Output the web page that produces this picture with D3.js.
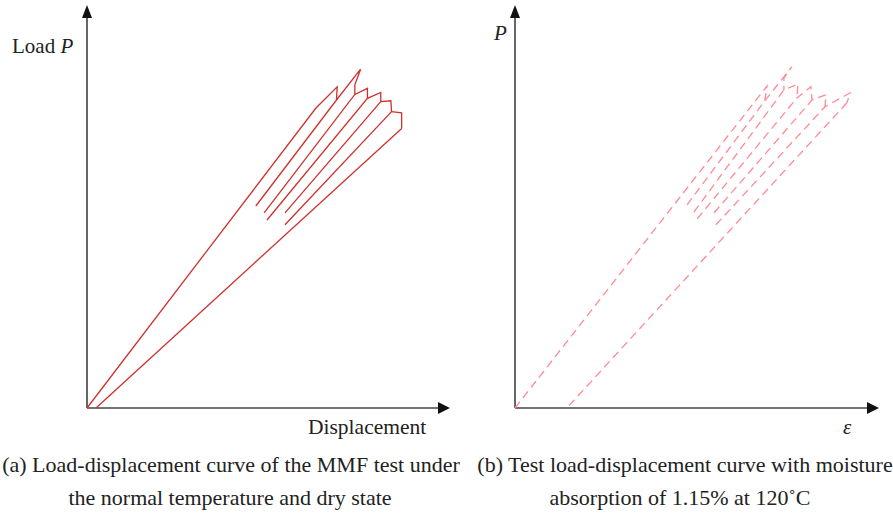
<!DOCTYPE html>
<html><head><meta charset="utf-8">
<script src="https://cdn.jsdelivr.net/npm/d3@7"></script>
<style>body{margin:0;background:#fff}svg{display:block}</style>
</head><body>
<script>
// ---------- data (arbitrary units) ----------
// Panel (a): load-displacement, dry state (solid)
const curveA1 = [[0,0],[6.36,7.5],[6.95,8.03],[6.93,7.7]];
const curveA2 = [[4.69,5.05],[6.93,7.7],[7.60,8.47],[7.44,8.08],[7.44,7.84]];
const curveA3 = [[4.92,4.88],[7.44,7.84],[7.79,7.99],[7.79,7.74]];
const curveA4 = [[5.0,4.7],[7.79,7.74],[8.16,7.89],[8.16,7.66]];
const curveA5 = [[5.5,4.88],[8.16,7.66],[8.44,7.68],[8.46,7.41]];
const curveA6 = [[5.5,4.58],[8.46,7.41],[8.74,7.38],[8.74,6.99]];
const curveA7 = [[8.74,6.99],[0.25,0]];
// Panel (b): moisture absorption 1.15% at 120°C (dashed)
const curveB1 = [[0,0],[7.0,8.05],[6.94,7.68]];
const curveB2 = [[4.78,5.08],[6.94,7.68],[7.69,8.53],[7.47,8.25],[7.47,7.95]];
const curveB3 = [[4.97,4.9],[7.47,7.95],[7.86,8.1],[7.83,7.75]];
const curveB4 = [[5.06,4.73],[7.83,7.75],[8.22,8.03],[8.25,7.7]];
const curveB5 = [[5.53,4.88],[8.25,7.7],[8.64,7.83],[8.61,7.53]];
const curveB6 = [[5.58,4.58],[8.61,7.53],[9.31,7.88],[9.22,7.63]];
const curveB7 = [[9.22,7.63],[1.44,0]];

const axisLabelsA = {x:"Displacement", y:"Load "};
const axisLabelsB = {x:"ε", y:"P"};
const captionA = ["(a) Load-displacement curve of the MMF test under","the normal temperature and dry state"];
const captionB = ["(b) Test load-displacement curve with moisture","absorption of 1.15% at 120˚C"];

// ---------- drawing ----------
const W=893,H=513;
const svg=d3.select("body").append("svg").attr("width",W).attr("height",H);
const serif="'Liberation Serif','Times New Roman',serif";

function panel(cfg){
  const x=d3.scaleLinear().domain([0,10]).range([cfg.x0,cfg.x0+360]);
  const y=d3.scaleLinear().domain([0,10]).range([408,8]);
  const g=svg.append("g");
  g.append("line").attr("x1",x(0)).attr("y1",y(0)).attr("x2",x(0)).attr("y2",cfg.yTop+8)
    .attr("stroke","#333").attr("stroke-width",1.5);
  g.append("line").attr("x1",x(0)).attr("y1",y(0)).attr("x2",cfg.xEnd-8).attr("y2",y(0))
    .attr("stroke","#444").attr("stroke-width",1.6);
  g.append("path").attr("d",`M${x(0)},${cfg.yTop} L${x(0)-5},${cfg.yTop+13} L${x(0)+5},${cfg.yTop+13}Z`).attr("fill","#111");
  g.append("path").attr("d",`M${cfg.xEnd},${y(0)} L${cfg.xEnd-12},${y(0)-6} L${cfg.xEnd-12},${y(0)+6}Z`).attr("fill","#111");
  const line=d3.line().x(d=>x(d[0])).y(d=>y(d[1]));
  cfg.curves.forEach(c=>{
    g.append("path").datum(c).attr("d",line).attr("fill","none")
      .attr("stroke",cfg.color).attr("stroke-width",cfg.sw)
      .attr("stroke-linejoin","miter")
      .attr("stroke-dasharray",cfg.dash||null);
  });
  return {x,y,g};
}

panel({x0:87,xEnd:450,yTop:5,color:"#d0302c",sw:1.3,
  curves:[curveA1,curveA2,curveA3,curveA4,curveA5,curveA6,curveA7]});
panel({x0:515,xEnd:879,yTop:5,color:"#ff8a94",sw:1.3,dash:"8,5",
  curves:[curveB1,curveB2,curveB3,curveB4,curveB5,curveB6,curveB7]});

// axis labels
const ta=svg.append("text").attr("x",12).attr("y",53).attr("font-family",serif).attr("font-size",21).attr("fill","#222");
ta.append("tspan").text(axisLabelsA.y);
ta.append("tspan").attr("font-style","italic").text("P");
svg.append("text").attr("x",308).attr("y",434).attr("font-family",serif).attr("font-size",21.5).attr("fill","#222").text(axisLabelsA.x);
svg.append("text").attr("x",494).attr("y",40).attr("font-family",serif).attr("font-size",21).attr("font-style","italic").attr("fill","#222").text(axisLabelsB.y);
svg.append("text").attr("x",843).attr("y",434).attr("font-family",serif).attr("font-size",21).attr("font-style","italic").attr("fill","#222").text(axisLabelsB.x);

// captions
function caption(lines,cxs){
  lines.forEach((t,i)=>{
    svg.append("text").attr("x",cxs[i]).attr("y",i===0?472:505).attr("text-anchor","middle")
      .attr("font-family",serif).attr("font-size",22).attr("fill","#222").text(t);
  });
}
caption(captionA,[231,230]);
caption(captionB,[685,680]);
</script>
</body></html>
